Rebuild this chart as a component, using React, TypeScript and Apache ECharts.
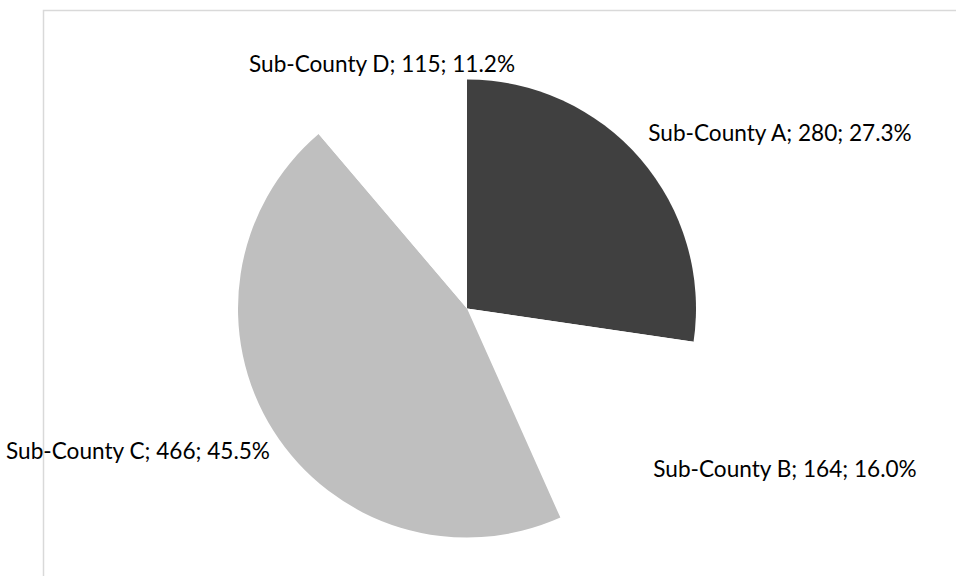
import React, { useEffect, useRef } from "react";
import * as echarts from "echarts";

const categories = ["Sub-County A", "Sub-County B", "Sub-County C", "Sub-County D"];
const values = [280, 164, 466, 115];
const percents = ["27.3%", "16.0%", "45.5%", "11.2%"];
const sliceColors = ["#404040", "#ffffff", "#bfbfbf", "#ffffff"];
const labelPositions = [
  [780, 132],
  [785, 468],
  [138, 450],
  [382, 63],
];

export default function App() {
  const ref = useRef<HTMLDivElement>(null);
  useEffect(() => {
    if (!ref.current) return;
    const chart = echarts.init(ref.current, null, { renderer: "svg" });
    chart.setOption({
      animation: false,
      backgroundColor: "#ffffff",
      graphic: [
        {
          type: "rect",
          shape: { x: 43.5, y: 10.5, width: 1200, height: 1200 },
          style: { fill: "none", stroke: "#d9d9d9", lineWidth: 1.5 },
          silent: true,
        },
      ],
      series: [
        {
          type: "pie",
          center: [467, 308.5],
          radius: 229,
          startAngle: 90,
          clockwise: true,
          avoidLabelOverlap: false,
          data: categories.map((c, i) => ({
            name: c,
            value: values[i],
            itemStyle: { color: sliceColors[i] },
            label: { formatter: `${c}; ${values[i]}; ${percents[i]}` },
          })),
          label: {
            show: true,
            position: "outside",
            color: "#000000",
            fontFamily: "Lato, 'Open Sans', sans-serif",
            fontSize: 22.6,
          },
          labelLine: { show: false },
          labelLayout: (p: any) => ({
            x: labelPositions[p.dataIndex][0],
            y: labelPositions[p.dataIndex][1],
            align: "center",
            verticalAlign: "middle",
          }),
          emphasis: { disabled: true },
        },
      ],
    });
    return () => chart.dispose();
  }, []);
  return (
    <div
      ref={ref}
      style={{ position: "fixed", left: 0, top: 0, width: 956, height: 576 }}
    />
  );
}
